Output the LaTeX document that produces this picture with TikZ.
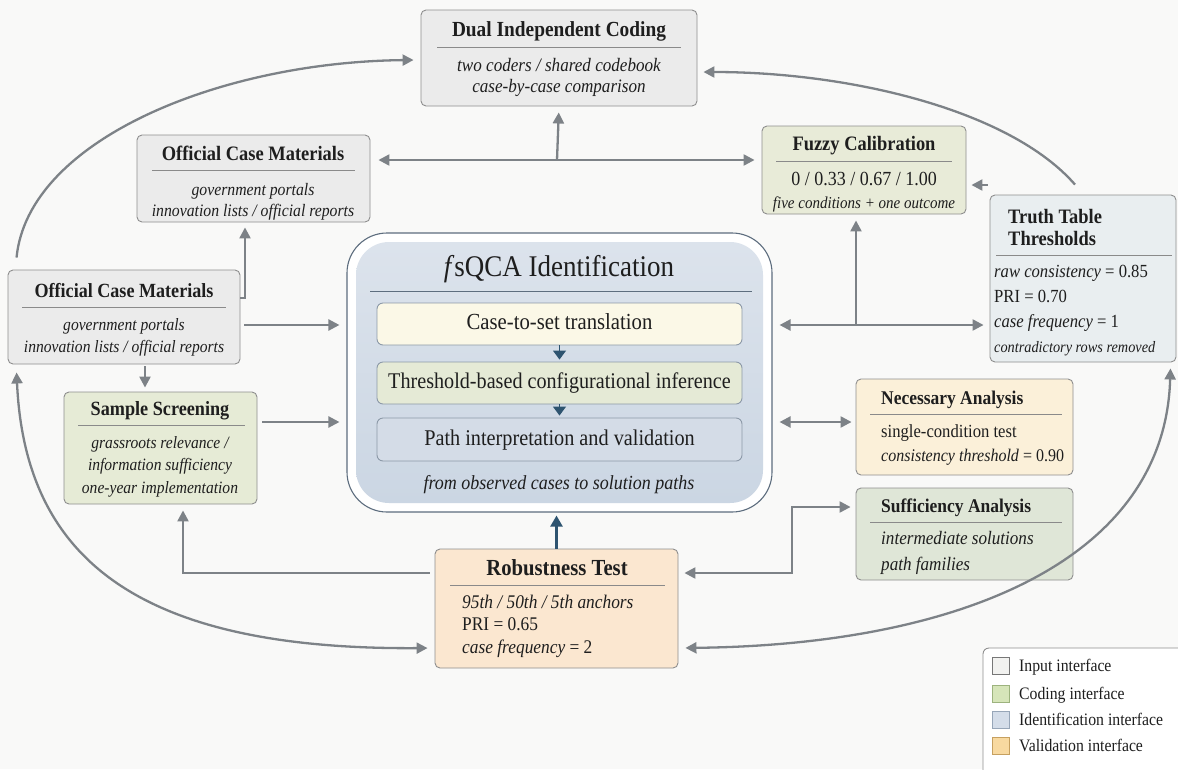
\documentclass[tikz,border=0pt]{standalone}
\usepackage{fontspec}
\setmainfont{Liberation Serif}[FakeStretch=0.9]
\usetikzlibrary{arrows.meta,calc}
\definecolor{bgc}{HTML}{F9F9F8}
\definecolor{txt}{HTML}{1E1E1E}
\definecolor{bord}{HTML}{8E8E8E}
\definecolor{rulec}{HTML}{8A8A8A}
\definecolor{inputfill}{HTML}{EBEBEB}
\definecolor{fuzzyfill}{HTML}{E8EBD8}
\definecolor{truthfill}{HTML}{E9EEF0}
\definecolor{sampfill}{HTML}{E6EBD6}
\definecolor{necfill}{HTML}{FBF0D9}
\definecolor{suffill}{HTML}{DFE6D7}
\definecolor{robfill}{HTML}{FBE7D0}
\definecolor{fstop}{HTML}{DCE3EC}
\definecolor{fsbot}{HTML}{CBD6E3}
\definecolor{fsrule}{HTML}{5D6D7E}
\definecolor{cafill}{HTML}{FBF8E7}
\definecolor{cbfill}{HTML}{E5EAD6}
\definecolor{ccfill}{HTML}{D4DCE7}
\definecolor{innerbord}{HTML}{8C99A8}
\definecolor{darkblue}{HTML}{2E5470}
\definecolor{conncol}{HTML}{7D8287}
\definecolor{lgA}{HTML}{F2F2F0}
\definecolor{lgAb}{HTML}{777777}
\definecolor{lgB}{HTML}{D6E5B9}
\definecolor{lgBb}{HTML}{9DB37E}
\definecolor{lgC}{HTML}{D4DDE9}
\definecolor{lgCb}{HTML}{97A6B8}
\definecolor{lgD}{HTML}{F8D9A0}
\definecolor{lgDb}{HTML}{C6A060}
\newcommand\mkbox[6]{\node[box,#2,minimum width={(#5)-(#3)},minimum height={(#6)-(#4)}] (#1) at ({((#3)+(#5))/2},{((#4)+(#6))/2}) {};}
\newcommand\fs[1]{\fontsize{#1}{#1}\selectfont}
\begin{document}
\begin{tikzpicture}[x=1pt,y=-1pt,
  box/.style={draw=bord, line width=0.9pt, rounded corners=5pt, inner sep=0pt},
  tx/.style={text=txt, inner sep=0pt, anchor=mid, yshift=-3.5pt},
  txl/.style={text=txt, inner sep=0pt, anchor=mid west, yshift=-3.5pt},
  rulel/.style={draw=rulec, line width=0.8pt},
  conn/.style={draw=conncol, line width=2.3pt, >={Triangle[length=11pt,width=11pt]}},
  dconn/.style={draw=darkblue, line width=2.3pt, >={Triangle[length=11pt,width=12pt]}},
  lgsq/.style={line width=0.8pt, minimum size=17pt, inner sep=0pt}]
\useasboundingbox (0,0) rectangle (1178,769);
\fill[bgc] (0,0) rectangle (1178,769);

% boxes
\mkbox{dual}{fill=inputfill}{421}{10}{697}{106}
\mkbox{ocmt}{fill=inputfill}{137}{135}{370}{222}
\mkbox{fuzzy}{fill=fuzzyfill}{762}{126}{966}{214}
\mkbox{truth}{fill=truthfill}{990}{195}{1176}{362}
\mkbox{locm}{fill=inputfill}{8}{270}{240}{364}
\mkbox{samp}{fill=sampfill}{64}{392}{257}{504}
\mkbox{nec}{fill=necfill}{856}{379}{1073}{475}
\mkbox{suf}{fill=suffill}{856}{488}{1073}{580}
\mkbox{rob}{fill=robfill}{435}{549}{678}{668}

% fsQCA
\mkbox{fs}{fill=white, draw=fsrule, line width=1.1pt, rounded corners=40pt}{347}{233}{772}{512}
\shade[top color=fstop, bottom color=fsbot, rounded corners=33pt] (356,242) rectangle (763,503);
\node[tx, font=\fs{30}] (fst) at (559,271) {\textit{f}sQCA Identification};
\draw[draw=fsrule, line width=0.9pt] (370,291) -- (752,291);
\mkbox{ca}{fill=cafill, draw=innerbord, rounded corners=6pt}{377}{303}{742}{345}
\mkbox{cb}{fill=cbfill, draw=innerbord, rounded corners=6pt}{377}{362}{742}{404}
\mkbox{cc}{fill=ccfill, draw=innerbord, rounded corners=6pt}{377}{418}{742}{461}
\node[tx, font=\fs{23}] at (ca) {Case-to-set translation};
\node[tx, font=\fs{22.4}] at (cb) {Threshold-based configurational inference};
\node[tx, font=\fs{22.5}] at (cc) {Path interpretation and validation};
\node[tx, font=\fs{20}\itshape] at (559,484) {from observed cases to solution paths};
\draw[dconn,->, line width=1.2pt, >={Triangle[length=9pt,width=13pt]}, shorten >=2pt] (ca.south) -- (cb.north);
\draw[dconn,->, line width=1.2pt, >={Triangle[length=9pt,width=13pt]}, shorten >=2pt] (cb.south) -- (cc.north);

% texts
\node[tx, font=\fs{21.5}\bfseries] at (559,31) {Dual Independent Coding};
\draw[rulel] (437,47) -- (681,47);
\node[tx, font=\fs{19}\itshape] at (559,66) {two coders / shared codebook};
\node[tx, font=\fs{19}\itshape] at (559,87) {case-by-case comparison};

\node[tx, font=\fs{20.5}\bfseries] at (253,155) {Official Case Materials};
\draw[rulel] (152,170) -- (355,170);
\node[tx, font=\fs{17.5}\itshape] at (253,190) {government portals};
\node[tx, font=\fs{17.5}\itshape] at (253,211) {innovation lists / official reports};

\node[tx, font=\fs{20.5}\bfseries] at (864,145) {Fuzzy Calibration};
\draw[rulel] (776,161) -- (952,161);
\node[tx, font=\fs{20}] at (864,180) {0 / 0.33 / 0.67 / 1.00};
\node[tx, font=\fs{16.7}\itshape] at (864,203) {five conditions + one outcome};

\node[txl, font=\fs{20.5}\bfseries] at (1008,218) {Truth Table};
\node[txl, font=\fs{20.5}\bfseries] at (1008,240) {Thresholds};
\draw[rulel] (996,255) -- (1172,255);
\node[txl, font=\fs{18.5}] at (994,272) {\textit{raw consistency} = 0.85};
\node[txl, font=\fs{18.5}] at (994,297) {PRI = 0.70};
\node[txl, font=\fs{18.5}] at (994,322) {\textit{case frequency} = 1};
\node[txl, font=\fs{15.9}\itshape] at (994,347) {contradictory rows removed};

\node[tx, font=\fs{20.1}\bfseries] at (124,292) {Official Case Materials};
\draw[rulel] (22,307) -- (226,307);
\node[tx, font=\fs{17.3}\itshape] at (124,325) {government portals};
\node[tx, font=\fs{17.3}\itshape] at (124,347) {innovation lists / official reports};

\node[tx, font=\fs{20.2}\bfseries] at (160,410) {Sample Screening};
\draw[rulel] (78,425) -- (245,425);
\node[tx, font=\fs{17.3}\itshape] at (160,443) {grassroots relevance /};
\node[tx, font=\fs{17.3}\itshape] at (160,465) {information sufficiency};
\node[tx, font=\fs{17.3}\itshape] at (160,488) {one-year implementation};

\node[txl, font=\fs{19.4}\bfseries] at (881,399) {Necessary Analysis};
\draw[rulel] (870,414) -- (1062,414);
\node[txl, font=\fs{18.5}] at (881,432) {single-condition test};
\node[txl, font=\fs{17.8}] at (881,456) {\textit{consistency threshold} = 0.90};

\node[txl, font=\fs{19.4}\bfseries] at (881,507) {Sufficiency Analysis};
\draw[rulel] (870,522) -- (1062,522);
\node[txl, font=\fs{19}\itshape] at (881,539) {intermediate solutions};
\node[txl, font=\fs{19}\itshape] at (881,565) {path families};

\node[tx, font=\fs{23}\bfseries] at (557,570) {Robustness Test};
\draw[rulel] (450,585) -- (665,585);
\node[txl, font=\fs{19.3}] at (462,603) {\textit{95th / 50th / 5th anchors}};
\node[txl, font=\fs{19.3}] at (462,625) {PRI = 0.65};
\node[txl, font=\fs{19.3}] at (462,648) {\textit{case frequency} = 2};

% coordinates
\coordinate (j1) at (557,160);
\coordinate (j2) at (245,298);
\coordinate (j3) at (856,325);
\coordinate (j4) at (792,573);
\coordinate (j5) at (183,573);
\coordinate (x145) at (145,0);
\coordinate (y185) at (0,185);
\coordinate (y325) at (0,325);
\coordinate (y422) at (0,422);
\coordinate (y507) at (0,507);
\coordinate (y573) at (0,573);
\coordinate (y648) at (0,648);

% connectors
\draw[conn,->] ([xshift=9pt,yshift=12pt]locm.north west) .. controls (28,140) and (220,62) .. ([xshift=-7pt,yshift=-2pt]dual.west);
\draw[conn,->] ([xshift=-8pt,yshift=10pt]truth.north) .. controls (1010,110) and (850,72) .. ([xshift=6pt,yshift=-14pt]dual.east);
\draw[conn,<->, shorten <=8pt, shorten >=7pt] (ocmt.east |- j1) -- (fuzzy.west |- j1);
\draw[conn,->, shorten >=6pt] (j1) -- (dual.south);
\draw[conn,->, shorten >=5pt] (j2 -| locm.east) -- (j2) -- (j2 |- ocmt.south);
\draw[conn,->, shorten <=4pt, shorten >=7pt] (locm.east |- y325) -- (fs.west |- y325);
\draw[conn,->, shorten <=2pt, shorten >=4pt] (x145 |- locm.south) -- (x145 |- samp.north);
\draw[conn,->, shorten <=5pt, shorten >=7pt] (samp.east |- y422) -- (fs.west |- y422);
\draw[conn,<->, shorten <=7pt, shorten >=6pt] (fs.east |- j3) -- (truth.west |- j3);
\draw[conn,->, shorten >=6pt] (j3) -- (j3 |- fuzzy.south);
\draw[conn,->, shorten <=2pt, shorten >=5pt] (y185 -| truth.west) -- (y185 -| fuzzy.east);
\draw[conn,<->, shorten <=7pt, shorten >=4pt] (fs.east |- y422) -- (nec.west |- y422);
\draw[conn,<->, shorten <=6pt, shorten >=5pt] (rob.east |- y573) -- (j4) -- (j4 |- y507) -- (suf.west |- y507);
\draw[conn,->, shorten <=5pt, shorten >=6pt] (rob.west |- y573) -- (j5) -- (j5 |- samp.south);
\draw[dconn,->, shorten >=3pt] (rob.north) -- (rob.north |- fs.south);
\draw[conn,<->, shorten >=7pt] ([xshift=9pt,yshift=-8pt]locm.south west) .. controls (25,560) and (140,650) .. (rob.west |- y648);
\draw[conn,<->, shorten <=7pt] (rob.east |- y648) .. controls (960,645) and (1165,560) .. ([xshift=-6pt,yshift=-6pt]truth.south east);

% legend
\mkbox{leg}{fill=white, rounded corners=6pt, draw=bord}{983}{648}{1200}{800}
\node[lgsq, draw=lgAb, fill=lgA] (la) at (1001,666) {};
\node[lgsq, draw=lgBb, fill=lgB] (lb) at (1001,694) {};
\node[lgsq, draw=lgCb, fill=lgC] (lc) at (1001,720) {};
\node[lgsq, draw=lgDb, fill=lgD] (ld) at (1001,746) {};
\node[txl, font=\fs{17.5}] at (1019,666) {Input interface};
\node[txl, font=\fs{17.5}] at (1019,694) {Coding interface};
\node[txl, font=\fs{17.5}] at (1019,720) {Identification interface};
\node[txl, font=\fs{17.5}] at (1019,746) {Validation interface};
\end{tikzpicture}
\end{document}
